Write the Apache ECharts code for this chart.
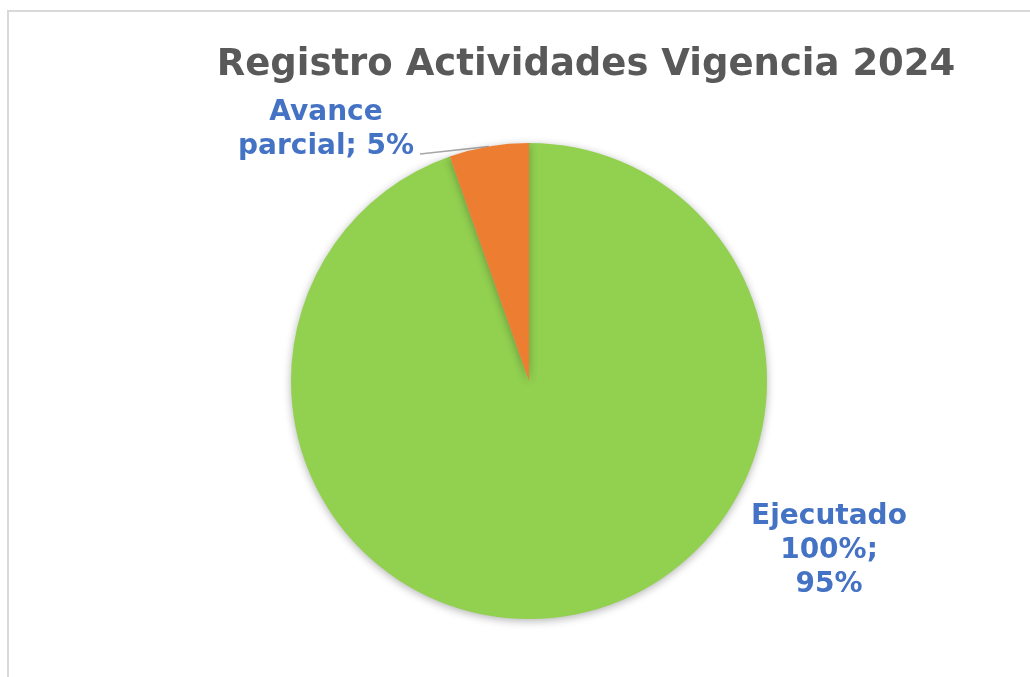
<!DOCTYPE html>
<html>
<head>
<meta charset="utf-8">
<script src="https://cdn.jsdelivr.net/npm/echarts@6/dist/echarts.min.js"></script>
<style>
  html, body { margin: 0; padding: 0; background: #fff; }
  #frame { position: absolute; left: 7px; top: 10px; width: 1100px; height: 700px;
           border-left: 2px solid #d9d9d9; border-top: 2px solid #d9d9d9; }
  #chart { position: absolute; left: 0; top: 0; width: 1030px; height: 677px; }
</style>
</head>
<body>
<div id="frame"></div>
<div id="chart"></div>
<script>
var categories = ['Ejecutado 100%', 'Avance parcial'];
var values = [94.6, 5.4];
var colors = ['#92D050', '#ED7D31'];
var labelText = ['Ejecutado\n100%;\n95%', 'Avance\nparcial; 5%'];

var chartDom = document.getElementById('chart');
var myChart = echarts.init(chartDom);
var option;

option = {
  title: {
    text: 'Registro Actividades Vigencia 2024',
    left: 581,
    top: 42,
    textAlign: 'center',
    textStyle: {
      fontFamily: 'DejaVu Sans',
      fontWeight: 'bold',
      fontSize: 37,
      color: '#595959'
    }
  },
  series: [
    {
      type: 'pie',
      center: [529, 381],
      radius: 238,
      startAngle: 90,
      clockwise: true,
      animation: false,
      itemStyle: {
        shadowBlur: 8,
        shadowOffsetY: 2,
        shadowColor: 'rgba(0,0,0,0.3)'
      },
      label: {
        show: true,
        fontFamily: 'DejaVu Sans',
        fontWeight: 'bold',
        fontSize: 28,
        lineHeight: 34,
        color: '#4472C4',
        align: 'center'
      },
      labelLine: {
        show: true,
        length2: 0,
        lineStyle: { color: '#a6a6a6', width: 1.5 }
      },
      labelLayout: function (params) {
        if (params.dataIndex === 1) {
          var cx = 326, cy = 130;
          var w = params.labelRect.width, h = params.labelRect.height;
          var res = { x: cx, y: cy, align: 'center', verticalAlign: 'middle' };
          var pts = params.labelLinePoints;
          if (pts && pts.length) {
            // straight leader from the slice edge to the lower right of the label
            var anchor = pts[0];
            var end = [cx + w / 2 + 6, cy + h / 2 - 10];
            res.labelLinePoints = [anchor, end, end];
          }
          return res;
        }
        return { x: 829, y: 551, align: 'center', verticalAlign: 'middle' };
      },
      data: categories.map(function (name, i) {
        return {
          name: name,
          value: values[i],
          itemStyle: { color: colors[i] },
          label: { formatter: labelText[i] },
          labelLine: { show: i === 1 }
        };
      })
    }
  ]
};

option && myChart.setOption(option);
</script>
</body>
</html>
